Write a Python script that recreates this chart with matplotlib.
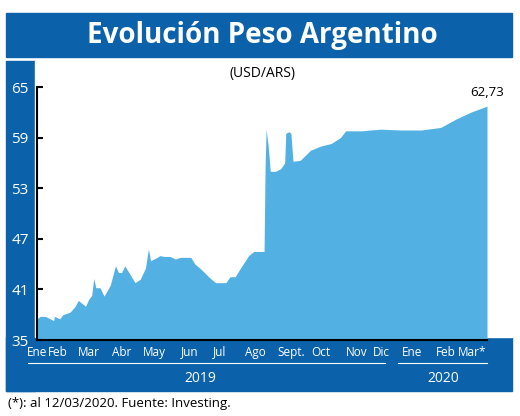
import matplotlib

matplotlib.use("Agg")

import matplotlib.pyplot as plt
from matplotlib.patches import Rectangle

plt.rcParams["font.family"] = ["Open Sans", "DejaVu Sans"]

# days since 1 Jan 2019 and USD/ARS value
DAYS = [0, 3, 8, 13, 16, 17, 22, 25, 32, 37, 40, 45, 47, 50, 53, 55, 57, 61, 65, 71,
        76, 79, 82, 85, 90, 95, 100, 105, 108, 110, 115, 119, 124, 129, 134, 139, 149,
        153, 158, 168, 173, 178, 183, 187, 192, 197, 205, 210, 220, 221, 222, 224, 226,
        231, 236, 240, 241, 244, 246, 248, 255, 265, 275, 285, 294, 299, 304, 314, 333,
        352, 372, 391, 406, 420, 436]
VALUES = [37.5, 37.8, 37.8, 37.5, 37.3, 37.8, 37.5, 38.0, 38.3, 39.0, 39.7, 39.2, 39.0,
          39.8, 40.3, 42.3, 41.2, 41.2, 40.2, 41.5, 43.8, 43.0, 43.0, 43.8, 42.8, 41.8,
          42.2, 43.5, 45.8, 44.4, 44.7, 45.0, 44.9, 44.9, 44.6, 44.8, 44.8, 44.0, 43.5,
          42.3, 41.8, 41.8, 41.8, 42.5, 42.5, 43.5, 45.0, 45.5, 45.5, 55.5, 60.0, 58.0,
          55.0, 55.0, 55.3, 56.0, 59.5, 59.7, 59.5, 56.2, 56.3, 57.5, 58.0, 58.3, 59.0,
          59.8, 59.8, 59.8, 60.0, 59.9, 59.9, 60.2, 61.2, 62.0, 62.73]

MONTH_DAYS = [0, 20, 50, 82, 114, 148, 177, 212, 246, 275, 310, 334, 363, 396, 422]
MONTH_LABELS = ["Ene", "Feb", "Mar", "Abr", "May", "Jun", "Jul", "Ago", "Sept.", "Oct",
                "Nov", "Dic", "Ene", "Feb", "Mar*"]
Y_TICKS = [35, 41, 47, 53, 59, 65]

BLUE = "#0b62ab"
FILL = "#52b1e2"
W, H = 520, 416

fig = plt.figure(figsize=(5.2, 4.16), dpi=100, facecolor="white")
bg = fig.add_axes((0, 0, 1, 1))
bg.set_xlim(0, W)
bg.set_ylim(H, 0)
bg.axis("off")
bg.add_patch(Rectangle((6, 13), 506, 44, color=BLUE))
bg.add_patch(Rectangle((6, 61), 29, 330, color=BLUE))
bg.add_patch(Rectangle((6, 337), 506, 54, color=BLUE))
bg.add_patch(Rectangle((35, 61), 477, 276, color="white"))
bg.text(262, 35, "Evolución Peso Argentino", color="white", fontsize=20,
        fontweight="bold", ha="center", va="center")
bg.text(262, 73, "(USD/ARS)", fontsize=10, ha="center", va="center")
bg.plot([28, 385], [363, 363], color="white", lw=0.8)
bg.plot([398, 487], [363, 363], color="white", lw=0.8)
bg.text(200, 378, "2019", color="white", fontsize=10, ha="center", va="center")
bg.text(443, 378, "2020", color="white", fontsize=10, ha="center", va="center")
bg.text(8, 404, "(*): al 12/03/2020. Fuente: Investing.", fontsize=9.5, ha="left", va="center")

ax = fig.add_axes((37 / W, 1 - 340 / H, 450 / W, 253 / H))
ax.patch.set_alpha(0)
ax.fill_between(DAYS, VALUES, 35, color=FILL, lw=0)
ax.set_xlim(0, 436)
ax.set_ylim(35, 65)
ax.set_yticks(Y_TICKS)
ax.set_yticklabels([str(t) for t in Y_TICKS], color="white", fontsize=11)
ax.tick_params(axis="y", direction="in", length=4, width=1.5, pad=6)
ax.set_xticks(MONTH_DAYS)
ax.set_xticklabels(MONTH_LABELS, color="white", fontsize=8.5)
ax.tick_params(axis="x", length=0, pad=4)
for side in ("top", "right"):
    ax.spines[side].set_visible(False)
ax.spines["left"].set_linewidth(1.5)
ax.spines["bottom"].set_linewidth(1.5)
ax.annotate(f"{VALUES[-1]:.2f}".replace(".", ","), (DAYS[-1], VALUES[-1]),
            xytext=(0, 5), textcoords="offset points", ha="center", va="bottom", fontsize=9.5)

fig.savefig("out.png", dpi=100)
